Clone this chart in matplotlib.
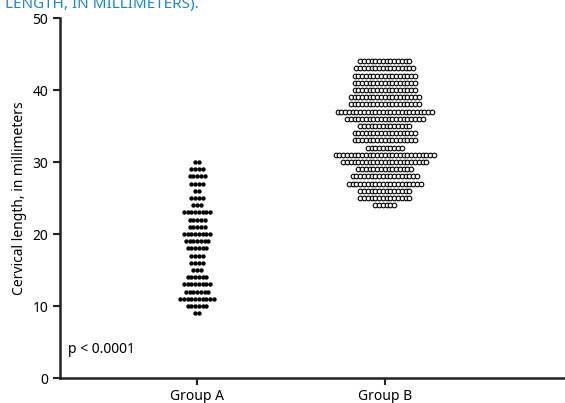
import numpy as np
import matplotlib
matplotlib.use('Agg')
from matplotlib import pyplot as plt

plt.rcParams['font.family'] = ['Noto Sans', 'DejaVu Sans']

groups = ['Group A', 'Group B']

# cervical length (mm) and number of patients at that length
a_values = [30, 29, 28, 27, 26, 25, 24, 23, 22, 21, 20, 19, 18, 17, 16, 15, 14, 13, 12, 11, 10, 9]
a_counts = [2, 4, 5, 4, 2, 4, 3, 8, 5, 5, 8, 7, 6, 4, 4, 3, 6, 8, 7, 10, 6, 2]

b_values = [44, 43, 42, 41, 40, 39, 38, 37, 36, 35, 34, 33, 32, 31, 30, 29, 28, 27, 26, 25, 24]
b_counts = [14, 16, 17, 17, 17, 19, 19, 26, 21, 14, 17, 17, 10, 27, 23, 15, 18, 20, 14, 14, 6]

y_ticks = [0, 10, 20, 30, 40, 50]


def swarm(center, values, counts, dx):
    xs, ys = [], []
    for v, n in zip(values, counts):
        for i in range(n):
            xs.append(center + (i - (n - 1) / 2) * dx)
            ys.append(v)
    return np.array(xs), np.array(ys)


fig = plt.figure(figsize=(5.65, 4.03), dpi=100)
ax = fig.add_axes([60 / 565, 25 / 403, 505 / 565, 360 / 403])

xa, ya = swarm(1, a_values, a_counts, 0.0200)
xb, yb = swarm(2, b_values, b_counts, 0.0201)
ax.scatter(xa, ya, s=10, color='black', linewidths=0, zorder=3)
ax.scatter(xb, yb, s=11, facecolors='white', edgecolors='black', linewidths=0.8, zorder=3)

ax.set_xlim(0.27, 2.96)
ax.set_ylim(0, 50)
ax.set_yticks(y_ticks)
ax.set_xticks([1, 2])
ax.set_xticklabels(groups)
ax.tick_params(axis='both', length=5, width=1.5, labelsize=10, color='#222222')
ax.tick_params(axis='x', pad=3)
ax.spines['top'].set_visible(False)
ax.spines['right'].set_visible(False)
for s in ['left', 'bottom']:
    ax.spines[s].set_linewidth(1.8)
    ax.spines[s].set_color('#222222')
ax.set_ylabel('Cervical length, in millimeters', fontsize=10, labelpad=4)

ax.text(0.31, 3.9, 'p < 0.0001', fontsize=10, va='center', ha='left')

fig.text(0.008, 1 - 8 / 403, 'LENGTH, IN MILLIMETERS).', color='#1a88cc', fontsize=11,
         ha='left', va='baseline')

fig.savefig('out.png', dpi=100)
